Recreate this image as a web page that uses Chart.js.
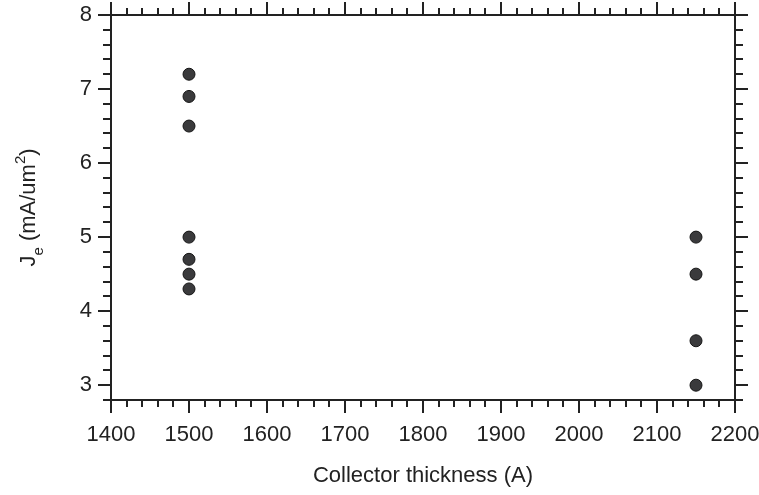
<!DOCTYPE html>
<html>
<head>
<meta charset="utf-8">
<script src="https://cdn.jsdelivr.net/npm/chart.js@4.4.1/dist/chart.umd.min.js"></script>
<style>
  html, body { margin: 0; padding: 0; background: #fff; }
  #wrap { width: 759px; height: 495px; }
</style>
</head>
<body>
<div id="wrap"><canvas id="chart" width="759" height="495"></canvas></div>
<script>
// data
const thickness = [1500, 1500, 1500, 1500, 1500, 1500, 1500, 2150, 2150, 2150, 2150];
const jeValues = [7.2, 6.9, 6.5, 5.0, 4.7, 4.5, 4.3, 5.0, 4.5, 3.6, 3.0];
const xTicks = [1400, 1500, 1600, 1700, 1800, 1900, 2000, 2100, 2200];
const yTicks = [3, 4, 5, 6, 7, 8];

const FONT = 'Liberation Sans, Arial, Helvetica, sans-serif';
const INK = '#222';

// box + outward ticks on all four sides (majors long, minors short)
const frameTicks = {
    id: 'frameTicks',
    afterDraw(chart) {
        const { ctx, chartArea: a, scales: { x, y } } = chart;
        ctx.save();
        ctx.strokeStyle = INK;
        ctx.lineWidth = 2;
        ctx.strokeRect(a.left, a.top, a.right - a.left, a.bottom - a.top);

        ctx.beginPath();
        for (let v = 1400; v <= 2200; v += 20) {
            const px = Math.round(x.getPixelForValue(v));
            const len = v % 100 === 0 ? 13 : 7;
            ctx.moveTo(px, a.bottom); ctx.lineTo(px, a.bottom + len);
            ctx.moveTo(px, a.top); ctx.lineTo(px, a.top - len);
        }
        for (let i = 14; i <= 40; i++) {
            const v = i / 5;
            const py = Math.round(y.getPixelForValue(v));
            const len = i % 5 === 0 ? 13 : 8;
            ctx.moveTo(a.left, py); ctx.lineTo(a.left - len, py);
            ctx.moveTo(a.right, py); ctx.lineTo(a.right + len, py);
        }
        ctx.stroke();
        ctx.restore();
    }
};

// y title with subscript and superscript
const yTitle = {
    id: 'yTitle',
    afterDraw(chart) {
        const { ctx, chartArea: a } = chart;
        const big = '22px ' + FONT, small = '15px ' + FONT;
        const parts = [
            { t: 'J', f: big, dy: 0 },
            { t: 'e', f: small, dy: 8 },
            { t: ' (mA/um', f: big, dy: 0 },
            { t: '2', f: small, dy: -10 },
            { t: ')', f: big, dy: 0 }
        ];
        let total = 0;
        parts.forEach(p => { ctx.font = p.f; p.w = ctx.measureText(p.t).width; total += p.w; });
        ctx.save();
        ctx.translate(35, (a.top + a.bottom) / 2);
        ctx.rotate(-Math.PI / 2);
        ctx.fillStyle = INK;
        ctx.textBaseline = 'alphabetic';
        let cx = -total / 2;
        parts.forEach(p => {
            ctx.font = p.f;
            ctx.fillText(p.t, cx, p.dy);
            cx += p.w;
        });
        ctx.restore();
    }
};

new Chart(document.getElementById('chart'), {
    type: 'scatter',
    data: {
        datasets: [{
            data: thickness.map((t, i) => ({ x: t, y: jeValues[i] })),
            backgroundColor: '#3a3a3c',
            borderColor: '#151515',
            borderWidth: 1,
            pointRadius: 6,
            pointHoverRadius: 6
        }]
    },
    options: {
        responsive: false,
        animation: false,
        layout: { padding: { top: 15, right: 24, left: 0, bottom: 0 } },
        plugins: { legend: { display: false }, tooltip: { enabled: false } },
        scales: {
            x: {
                type: 'linear',
                min: 1400,
                max: 2200,
                afterBuildTicks: s => { s.ticks = xTicks.map(v => ({ value: v })); },
                afterFit: s => { s.height = 95; s.paddingLeft = 0; s.paddingRight = 0; },
                grid: { display: false, drawTicks: false },
                border: { display: false },
                ticks: { color: INK, font: { family: FONT, size: 22 }, padding: 22, maxRotation: 0,
                         callback: v => String(v) },
                title: {
                    display: true,
                    text: 'Collector thickness (A)',
                    color: INK,
                    font: { family: FONT, size: 22 },
                    padding: { top: 0, bottom: 6 }
                }
            },
            y: {
                type: 'linear',
                min: 2.8,
                max: 8,
                afterBuildTicks: s => { s.ticks = yTicks.map(v => ({ value: v })); },
                afterFit: s => { s.width = 111; s.paddingTop = 0; s.paddingBottom = 0; },
                grid: { display: false, drawTicks: false },
                border: { display: false },
                ticks: { color: INK, font: { family: FONT, size: 22 }, padding: 19,
                         callback: v => String(v) }
            }
        }
    },
    plugins: [frameTicks, yTitle]
});
</script>
</body>
</html>
